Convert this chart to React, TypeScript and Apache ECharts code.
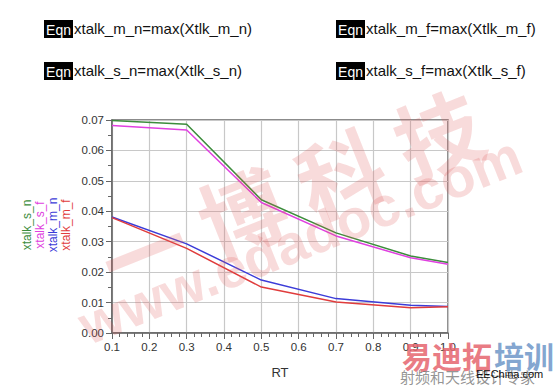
import React, { useEffect, useRef } from "react";
import * as echarts from "echarts";

const rtValues = [0.1, 0.3, 0.5, 0.7, 0.9, 1.0];
const xtalkSN = [0.0698, 0.0686, 0.0438, 0.0329, 0.0253, 0.0232];
const xtalkSF = [0.0682, 0.0667, 0.0429, 0.0319, 0.0247, 0.0226];
const xtalkMN = [0.0381, 0.0293, 0.0174, 0.0113, 0.0091, 0.0087];
const xtalkMF = [0.0379, 0.0278, 0.0151, 0.0102, 0.0083, 0.0086];
const seriesNames = ["xtalk_s_n", "xtalk_s_f", "xtalk_m_n", "xtalk_m_f"];
const seriesColors = ["#3c8c3c", "#e040e0", "#3c3cd8", "#e03c3c"];
const equations = [
  "xtalk_m_n=max(Xtlk_m_n)",
  "xtalk_m_f=max(Xtlk_m_f)",
  "xtalk_s_n=max(Xtlk_s_n)",
  "xtalk_s_f=max(Xtlk_s_f)",
];

export default function App() {
  const ref = useRef<HTMLDivElement>(null);
  useEffect(() => {
    if (!ref.current) return;
    const chart = echarts.init(ref.current, null, { renderer: "svg" });
    const allData = [xtalkSN, xtalkSF, xtalkMN, xtalkMF];
    const eqPos = [
      [44, 20],
      [336, 20],
      [44, 62],
      [336, 62],
    ];
    const font = "'Liberation Sans', Arial, sans-serif";
    const graphics: any[] = [];
    equations.forEach((eq, i) => {
      const [x, y] = eqPos[i];
      graphics.push({
        type: "rect",
        left: x,
        top: y,
        shape: { width: 29, height: 18 },
        style: { fill: "#000" },
      });
      graphics.push({
        type: "text",
        x: x + 14.5,
        y: y + 9.5,
        style: { text: "Eqn", fill: "#fff", font: "14px " + font, align: "center", verticalAlign: "middle" },
      });
      graphics.push({
        type: "text",
        left: x + 30,
        top: y + 1,
        style: { text: eq, fill: "#111", font: "15px " + font },
      });
    });
    const legendX = [27, 40, 53, 66];
    seriesNames.forEach((n, i) => {
      graphics.push({
        type: "text",
        x: legendX[i],
        y: 225,
        rotation: Math.PI / 2,
        style: {
          text: n,
          fill: seriesColors[i],
          font: "12px " + font,
          align: "center",
          verticalAlign: "middle",
        },
      });
    });
    // watermark
    const wm = "rgba(225,90,90,0.22)";
    graphics.push({
      type: "text",
      x: 290,
      y: 190,
      rotation: 0.38,
      z: 100,
      style: {
        text: "一 博 科 技",
        fill: wm,
        font: "bold 86px 'Noto Sans CJK SC', sans-serif",
        align: "center",
        verticalAlign: "middle",
      },
    });
    graphics.push({
      type: "text",
      x: 300,
      y: 240,
      rotation: 0.38,
      z: 100,
      style: {
        text: "www.edadoc.com",
        fill: wm,
        font: "bold 56px " + font,
        align: "center",
        verticalAlign: "middle",
      },
    });
    graphics.push({
      type: "text",
      left: 402,
      top: 340,
      z: 100,
      style: {
        text: "易迪拓",
        fill: "rgba(230,100,110,0.85)",
        font: "bold 30px 'Noto Sans CJK SC', sans-serif",
      },
    });
    graphics.push({
      type: "text",
      left: 494,
      top: 340,
      z: 100,
      style: {
        text: "培训",
        fill: "rgba(110,150,200,0.85)",
        font: "bold 30px 'Noto Sans CJK SC', sans-serif",
      },
    });
    graphics.push({
      type: "text",
      left: 400,
      top: 369,
      z: 100,
      style: {
        text: "射频和天线设计专家",
        fill: "rgba(120,120,120,0.8)",
        font: "15px 'Noto Sans CJK SC', sans-serif",
      },
    });
    graphics.push({
      type: "text",
      left: 476,
      top: 368,
      z: 101,
      style: {
        text: "EEChina.com",
        fill: "#111",
        font: "11px " + font,
      },
    });

    chart.setOption({
      animation: false,
      backgroundColor: "#fff",
      grid: {
        left: 112,
        right: 107,
        top: 120,
        bottom: 53,
        show: true,
        borderColor: "#666",
        borderWidth: 1.5,
      },
      xAxis: {
        type: "value",
        min: 0.1,
        max: 1.0,
        interval: 0.1,
        name: "RT",
        nameLocation: "middle",
        nameGap: 33,
        nameTextStyle: { color: "#333", fontSize: 13, fontFamily: font },
        axisLine: { lineStyle: { color: "#666", width: 1.5 } },
        axisTick: { show: true, inside: false, length: 6, lineStyle: { color: "#666" } },
        minorTick: { show: true, splitNumber: 5, length: 4, lineStyle: { color: "#666" } },
        axisLabel: {
          color: "#333",
          fontSize: 11.5,
          fontFamily: font,
          formatter: (v: number) => v.toFixed(1),
        },
        splitLine: { show: true, lineStyle: { color: "#c8c8c8", width: 1.2 } },
      },
      yAxis: {
        type: "value",
        min: 0,
        max: 0.07,
        interval: 0.01,
        axisLine: { show: true, lineStyle: { color: "#666", width: 1.5 } },
        axisTick: { show: true, inside: false, length: 6, lineStyle: { color: "#666" } },
        minorTick: { show: true, splitNumber: 2, length: 4, lineStyle: { color: "#666" } },
        axisLabel: {
          color: "#333",
          fontSize: 11.5,
          fontFamily: font,
          margin: 8,
          formatter: (v: number) => v.toFixed(2),
        },
        splitLine: { show: true, lineStyle: { color: "#c8c8c8", width: 1.2 } },
      },
      series: seriesNames.map((n, i) => ({
        name: n,
        type: "line",
        data: rtValues.map((x, j) => [x, allData[i][j]]),
        showSymbol: false,
        symbol: "none",
        lineStyle: { color: seriesColors[i], width: 1.5 },
        itemStyle: { color: seriesColors[i] },
      })),
      graphic: graphics,
    });
    return () => chart.dispose();
  }, []);
  return <div ref={ref} style={{ width: 555, height: 386, position: "absolute", left: 0, top: 0 }} />;
}
